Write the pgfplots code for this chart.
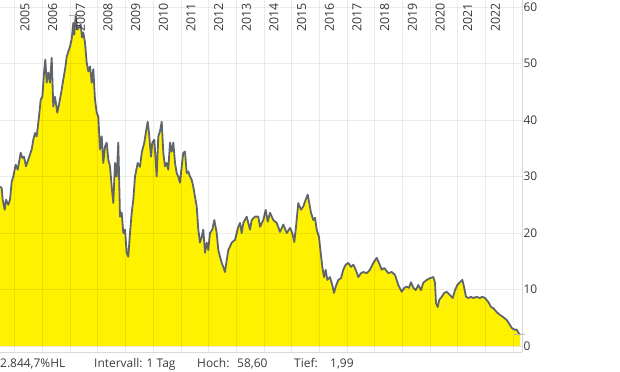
\documentclass[border=0pt]{standalone}
\usepackage{pgfplots}
\usepackage{pgfplotstable}
\pgfplotsset{compat=1.18}
\usepackage{fontspec}
\setmainfont{Open Sans}
\definecolor{fillyellow}{RGB}{255,242,0}
\definecolor{linegray}{RGB}{95,101,106}
\definecolor{txt}{RGB}{58,58,58}
\pgfplotstableread{
x y
2004.458 28.2
2004.519 28.0
2004.556 25.9
2004.628 24.1
2004.675 25.9
2004.758 25.0
2004.819 25.9
2004.881 29.1
2004.939 30.0
2005.025 32.1
2005.098 31.2
2005.206 34.2
2005.264 33.3
2005.325 33.5
2005.398 31.8
2005.481 33.0
2005.604 34.8
2005.661 36.5
2005.723 37.7
2005.784 37.1
2005.867 40.6
2005.929 43.6
2005.987 44.1
2006.059 48.9
2006.095 50.7
2006.146 46.6
2006.204 48.4
2006.265 46.6
2006.326 51.0
2006.384 42.4
2006.446 44.1
2006.529 41.3
2006.601 43.0
2006.688 45.4
2006.746 47.2
2006.807 48.9
2006.869 51.2
2006.926 52.1
2006.988 53.0
2007.049 54.3
2007.107 57.2
2007.143 55.1
2007.194 58.6
2007.252 56.0
2007.313 56.4
2007.375 56.9
2007.421 54.6
2007.468 55.5
2007.530 53.7
2007.591 50.2
2007.649 48.6
2007.711 49.5
2007.772 46.6
2007.830 49.0
2007.891 43.6
2007.953 41.3
2008.011 40.6
2008.072 34.8
2008.134 37.1
2008.191 32.4
2008.253 35.3
2008.314 36.0
2008.372 33.0
2008.433 31.8
2008.495 28.2
2008.553 25.3
2008.614 32.4
2008.676 30.0
2008.733 36.0
2008.795 22.9
2008.856 23.6
2008.914 20.0
2008.976 20.6
2009.037 16.5
2009.095 15.8
2009.156 20.0
2009.218 23.6
2009.275 25.9
2009.337 30.0
2009.434 32.4
2009.518 31.7
2009.579 34.2
2009.673 36.0
2009.735 38.0
2009.796 39.7
2009.843 37.7
2009.915 33.5
2009.962 36.0
2010.035 36.5
2010.121 30.0
2010.179 37.1
2010.240 38.0
2010.302 39.7
2010.360 34.2
2010.421 31.8
2010.483 32.4
2010.540 31.2
2010.602 36.0
2010.663 34.4
2010.721 36.0
2010.783 32.4
2010.844 30.6
2010.902 30.0
2010.963 28.9
2011.025 31.8
2011.082 34.2
2011.144 34.4
2011.205 30.6
2011.263 30.9
2011.325 30.0
2011.386 29.4
2011.444 28.2
2011.505 26.4
2011.567 24.7
2011.625 20.6
2011.686 18.3
2011.747 19.3
2011.805 20.6
2011.867 16.5
2011.928 18.3
2011.986 17.0
2012.047 20.0
2012.131 20.6
2012.203 22.3
2012.290 20.0
2012.347 17.0
2012.409 15.8
2012.470 14.7
2012.528 14.0
2012.590 13.1
2012.651 15.2
2012.709 17.0
2012.770 17.6
2012.831 18.3
2012.951 18.8
2013.070 21.1
2013.132 21.8
2013.193 20.0
2013.251 21.8
2013.374 22.9
2013.493 20.6
2013.555 22.3
2013.674 22.9
2013.793 22.9
2013.855 21.1
2013.974 22.3
2014.061 24.1
2014.133 22.0
2014.216 23.6
2014.335 22.3
2014.458 21.8
2014.577 20.2
2014.697 21.5
2014.819 20.0
2014.939 20.9
2015.022 20.0
2015.094 18.4
2015.155 21.1
2015.238 25.3
2015.336 24.1
2015.419 24.7
2015.506 25.9
2015.578 26.8
2015.636 25.3
2015.697 23.6
2015.781 22.3
2015.842 22.7
2015.903 20.6
2015.987 19.3
2016.048 16.5
2016.106 14.0
2016.167 12.2
2016.229 13.5
2016.287 11.7
2016.384 12.2
2016.467 10.8
2016.529 9.4
2016.590 10.5
2016.684 11.7
2016.782 12.0
2016.865 13.5
2016.951 14.4
2017.046 14.7
2017.143 14.0
2017.226 14.4
2017.313 13.5
2017.407 12.2
2017.505 12.9
2017.588 13.1
2017.711 12.9
2017.830 13.5
2017.949 14.7
2018.072 15.6
2018.155 14.7
2018.253 13.5
2018.347 13.8
2018.491 12.9
2018.614 13.1
2018.733 12.6
2018.853 10.8
2018.975 9.6
2019.069 10.3
2019.156 10.5
2019.239 10.3
2019.312 11.3
2019.395 10.3
2019.481 9.9
2019.575 10.8
2019.673 9.9
2019.756 11.2
2019.879 11.7
2019.998 12.0
2020.117 12.2
2020.179 11.2
2020.215 7.6
2020.276 6.9
2020.334 8.2
2020.421 8.7
2020.515 9.4
2020.602 9.6
2020.721 9.0
2020.819 8.5
2020.902 9.9
2020.985 10.8
2021.082 11.3
2021.166 11.7
2021.227 10.5
2021.300 8.7
2021.383 8.5
2021.480 8.7
2021.563 8.5
2021.686 8.7
2021.805 8.5
2021.888 8.7
2021.986 8.5
2022.105 7.8
2022.203 6.9
2022.286 6.7
2022.409 6.0
2022.528 5.5
2022.647 5.1
2022.770 4.6
2022.853 4.0
2022.951 3.2
2023.045 2.9
2023.131 2.9
2023.214 2.2
2023.251 2.0
}\pricedata
\begin{document}
\begin{tikzpicture}
\path[use as bounding box] (0,0) rectangle (620bp,372bp);
\begin{axis}[
  at={(0,20bp)}, anchor=south west,
  scale only axis, width=522bp, height=352bp,
  xmin=2004.458, xmax=2023.323,
  ymin=-1.06, ymax=61.24,
  axis line style={draw=none},
  xtick={2005,...,2023},
  xticklabels={},
  xtick style={draw=none},
  ytick={0,10,...,60},
  ytick style={draw=none},
  yticklabel pos=right,
  yticklabel style={font=\fontsize{12}{14}\selectfont, text=txt, anchor=west, xshift=-2bp},
  /pgf/number format/assume math mode=true,
  grid=major,
  major grid style={black, opacity=0.075, line width=1bp},
  axis on top,
  clip=false,
]
\addplot[fill=fillyellow, draw=none] table[x=x,y=y] {\pricedata} \closedcycle;
\addplot[linegray, line width=1.8bp, line join=round] table[x=x,y=y] {\pricedata};
\addplot[gray!60, line width=0.8bp] coordinates {(2006.95,58.6) (2007.35,58.6)};
\addplot[gray!60, line width=0.8bp] coordinates {(2023.04,1.99) (2023.44,1.99)};
\draw[gray!30, line width=1bp] (rel axis cs:1,0) -- (rel axis cs:1,1);
\draw[gray!30, line width=1bp] (rel axis cs:0,0) -- (rel axis cs:1,0);
\pgfplotsinvokeforeach{2005,...,2022}{
  \node[rotate=90, anchor=east, inner sep=0pt, text=txt, font=\fontsize{12.5}{14}\selectfont]
    at ([xshift=10bp,yshift=-3.3bp]axis cs:#1,61.24) {#1};
}
\end{axis}
\begin{scope}[every node/.style={anchor=base west, inner sep=0pt, text=txt, font=\fontsize{12}{14}\selectfont}]
\node at (0bp,5bp) {2.844,7\%HL};
\node at (94bp,5bp) {Intervall: 1 Tag};
\node at (197bp,5bp) {Hoch:};
\node at (237bp,5bp) {58,60};
\node at (294bp,5bp) {Tief:};
\node at (330bp,5bp) {1,99};
\end{scope}
\end{tikzpicture}
\end{document}
